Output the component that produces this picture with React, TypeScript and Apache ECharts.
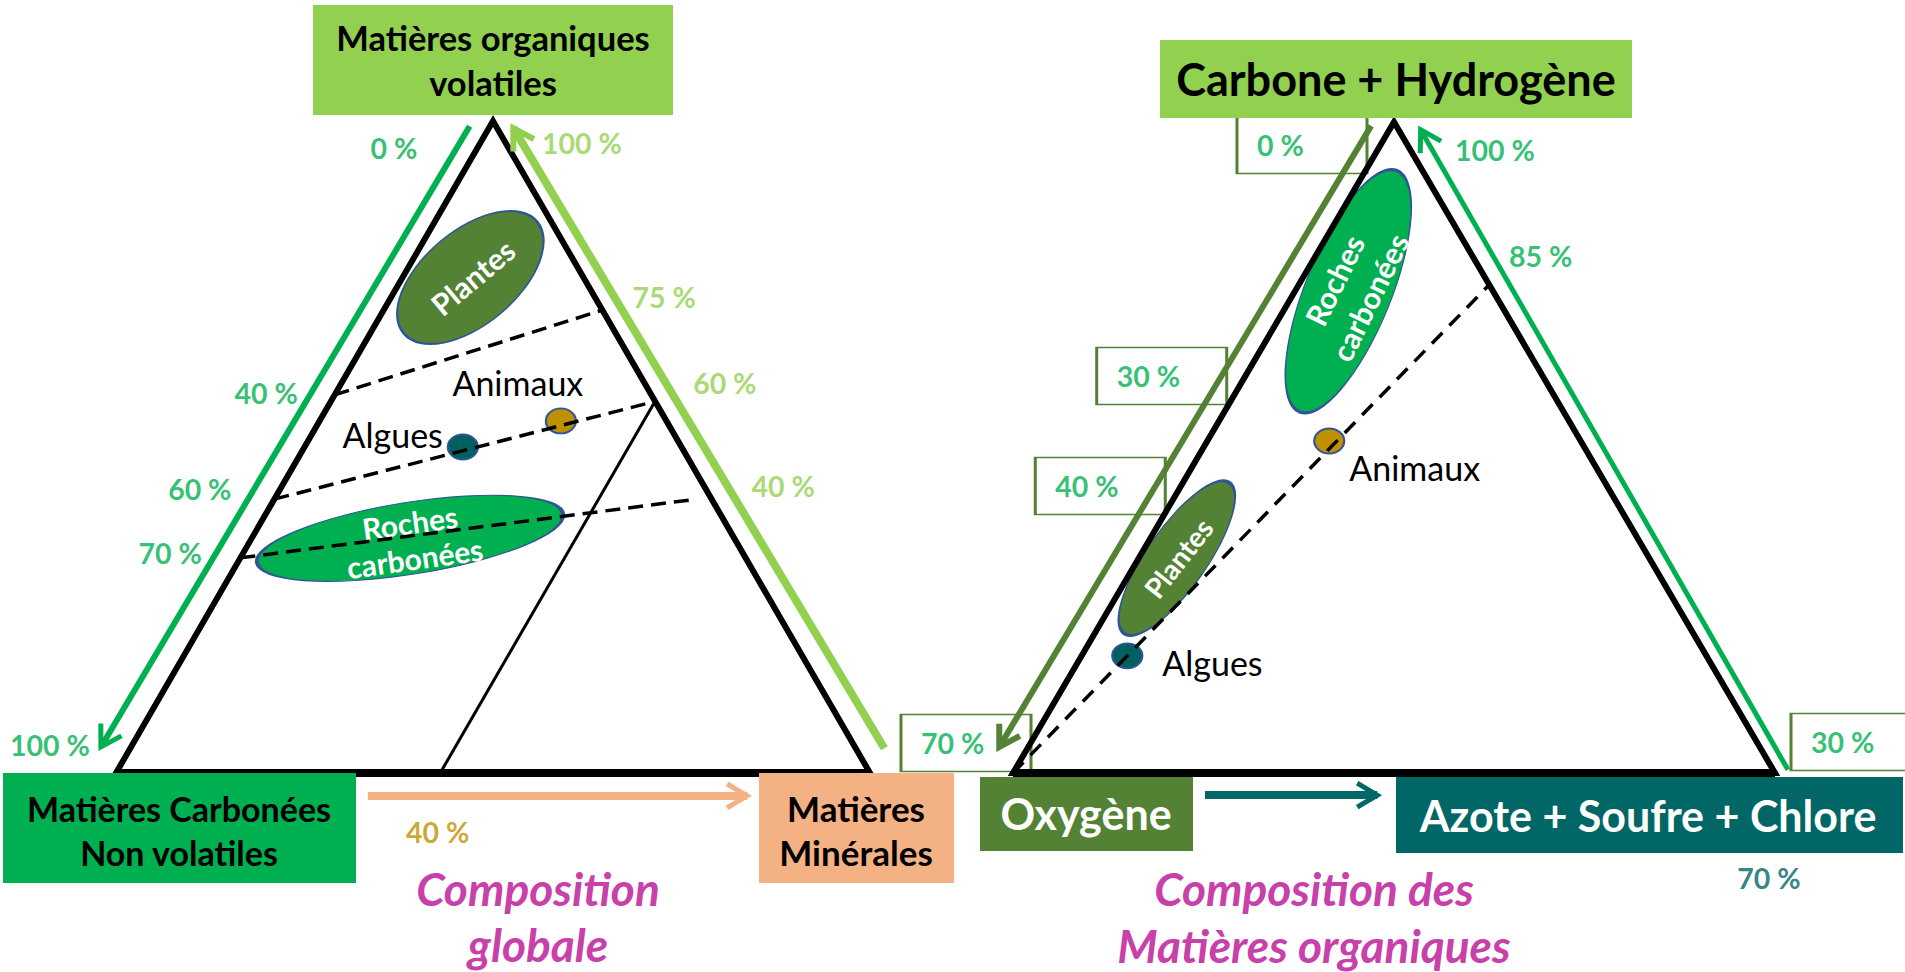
import React, { useEffect, useRef } from "react";
import * as echarts from "echarts";

/* ================= DATA ================= */
// Left diagram "Composition globale" — ternary order [top, bottom-left, bottom-right]
// = [Matières organiques volatiles, Matières carbonées non volatiles, Matières minérales] (%)
const globalCornerLabels = ["Matières organiques\nvolatiles", "Matières Carbonées\nNon volatiles", "Matières\nMinérales"];
const globalTitle = "Composition\nglobale";
const globalDashedStart = [[58, 42, 0], [42, 58, 0], [33, 67, 0]];
const globalDashedEnd = [[71, 0, 29], [57, 0, 43], [42, 2, 56]];
const globalSolidStart = [0, 57, 43];
const globalSolidEnd = [57, 0, 43];
const globalPointNames = ["Algues", "Animaux"];
const globalPointValues = [[50, 29, 21], [54, 14, 32]];
const globalZoneNames = ["Plantes", "Roches\ncarbonées"];
const globalZoneCentres = [[76, 15, 9], [36, 43, 21]];
const globalLeftTicks = [0, 40, 60, 70, 100];
const globalRightTicks = [100, 75, 60, 40];
const globalBottomTicks = [40];
const globalLeftScale = [0, 100];
const globalRightScale = [100, 0];
const globalBottomScale = [0, 100];

// Right diagram "Composition des Matières organiques" — [C + H, O, N + S + Cl] (%)
const organicCornerLabels = ["Carbone + Hydrogène", "Oxygène", "Azote + Soufre + Chlore"];
const organicTitle = "Composition des\nMatières organiques";
const organicDashedStart = [[0, 100, 0]];
const organicDashedEnd = [[75, 0, 25]];
const organicPointNames = ["Algues", "Animaux"];
const organicPointValues = [[18, 76, 6], [51, 33, 16]];
const organicZoneNames = ["Roches\ncarbonées", "Plantes"];
const organicZoneCentres = [[74, 19, 7], [33, 62, 5]];
const organicLeftTicks = [0, 30, 40, 70];
const organicRightTicks = [100, 85, 30];
const organicBottomTicks = [70];
const organicLeftScale = [0, 70];
const organicRightScale = [100, 30];
const organicBottomScale = [0, 70];

/* ================= STYLE & LAYOUT ================= */
const FONT = "Lato, 'Open Sans', sans-serif";
const BLACK = "#000000";
const WHITE = "#FFFFFF";
const GREEN = "#00B050";
const LIGHT = "#92D050";
const OLIVE = "#548235";
const TEAL = "#006666";
const PEACH = "#F4B183";
const GOLD = "#BF9000";
const MAGENTA = "#C840A9";
const EDGE_BLUE = "#2F5597";
const ALGAE = "#00605F";
const ELLIPSE = "path://M50,0 C77.6,0 100,22.4 100,50 C100,77.6 77.6,100 50,100 C22.4,100 0,77.6 0,50 C0,22.4 22.4,0 50,0 Z";

const frames = [
  { x: 116, y: 121, w: 754, h: 652 },
  { x: 1013, y: 122, w: 762, h: 651 },
];
const PAD = 0.1;

const diagrams: any[] = [
  {
    frame: frames[0],
    dashStart: globalDashedStart, dashEnd: globalDashedEnd, dashWidth: 3.5, dash: [15, 8],
    solidStart: [globalSolidStart], solidEnd: [globalSolidEnd],
    pointNames: globalPointNames, pointValues: globalPointValues,
    pointStyle: [
      { color: ALGAE, align: "right", offset: [-20, -13] },
      { color: GOLD, align: "center", offset: [-43, -38] },
    ],
    zoneNames: globalZoneNames, zoneCentres: globalZoneCentres,
    zoneStyle: [
      { size: [174, 94], rot: 40, labelRot: 40, color: OLIVE, fs: 30, lh: 34, offset: [2, 1] },
      { size: [310, 72], rot: 9, labelRot: 8, color: GREEN, fs: 30, lh: 36, offset: [2, 2] },
    ],
    ticks: [
      { edge: "left", values: globalLeftTicks, scale: globalLeftScale, color: GREEN,
        offsets: [[-99, 27], [-76, 11], [-67, -23], [-59, -24], [-66, -28]], boxed: [] },
      { edge: "right", values: globalRightTicks, scale: globalRightScale, color: LIGHT,
        offsets: [[89, 22], [77, 13], [81, 1], [64, -26]], boxed: [] },
      { edge: "bottom", values: globalBottomTicks, scale: globalBottomScale, color: GOLD,
        offsets: [[20, 59]], boxed: [] },
    ],
    arrows: [
      { from: [0.469, 0.992], to: [-0.02, 0.04], color: GREEN, width: 6, head: 5 },
      { from: [1.019, 0.038], to: [0.527, 0.989], color: LIGHT, width: 8, head: 6 },
      { from: [0.334, -0.035], to: [0.837, -0.035], color: PEACH, width: 8, head: 5 },
    ],
  },
  {
    frame: frames[1],
    dashStart: organicDashedStart, dashEnd: organicDashedEnd, dashWidth: 3.5, dash: [15, 10],
    solidStart: [], solidEnd: [],
    pointNames: organicPointNames, pointValues: organicPointValues,
    pointStyle: [
      { color: ALGAE, align: "left", offset: [35, 7] },
      { color: GOLD, align: "left", offset: [20, 27] },
    ],
    zoneNames: organicZoneNames, zoneCentres: organicZoneCentres,
    zoneStyle: [
      { size: [260, 86], rot: 68, labelRot: 64, color: GREEN, fs: 30, lh: 39, offset: [4, 2] },
      { size: [184, 60], rot: 55, labelRot: 52, color: OLIVE, fs: 28, lh: 30, offset: [1, 1] },
    ],
    ticks: [
      { edge: "left", values: organicLeftTicks, scale: organicLeftScale, color: GREEN,
        offsets: [[-92, 23], [-69, -25], [-76, -8], [-47, -30]], boxed: [true, true, true, true] },
      { edge: "right", values: organicRightTicks, scale: organicRightScale, color: GREEN,
        offsets: [[101, 28], [65, -6], [81, -31]], boxed: [false, false, true] },
      { edge: "bottom", values: organicBottomTicks, scale: organicBottomScale, color: TEAL,
        offsets: [[-6, 105]], boxed: [] },
    ],
    arrows: [
      { from: [0.47, 0.994], to: [-0.018, 0.04], color: OLIVE, width: 6, head: 6 },
      { from: [1.017, 0.005], to: [0.535, 0.988], color: GREEN, width: 5, head: 5 },
      { from: [0.252, -0.034], to: [0.478, -0.034], color: TEAL, width: 8, head: 5 },
    ],
  },
];

const cornerBoxes = [
  { rect: [313, 5, 360, 110], fill: LIGHT, text: globalCornerLabels[0], tx: 493, ty: 60, color: BLACK, size: 34.5, lh: 45 },
  { rect: [3, 773, 353, 110], fill: GREEN, text: globalCornerLabels[1], tx: 179, ty: 830, color: BLACK, size: 34, lh: 44 },
  { rect: [759, 773, 195, 110], fill: PEACH, text: globalCornerLabels[2], tx: 856, ty: 830, color: BLACK, size: 35, lh: 44 },
  { rect: [1160, 40, 472, 78], fill: LIGHT, text: organicCornerLabels[0], tx: 1396, ty: 79, color: BLACK, size: 45, lh: 50 },
  { rect: [980, 777, 213, 74], fill: OLIVE, text: organicCornerLabels[1], tx: 1086, ty: 813, color: WHITE, size: 43, lh: 50 },
  { rect: [1396, 777, 507, 76], fill: TEAL, text: organicCornerLabels[2], tx: 1648, ty: 815, color: WHITE, size: 43, lh: 50 },
];
const titleTexts = [
  { text: globalTitle, x: 538, y: 916, lh: 56 },
  { text: organicTitle, x: 1314, y: 917, lh: 57 },
];
const TITLE_SIZE = 46;

/* ================= HELPERS ================= */
function toXY(t: number[]): number[] {
  const s = t[0] + t[1] + t[2];
  return [(t[2] + t[0] / 2) / s, t[0] / s];
}
function edgeXY(edge: string, f: number): number[] {
  if (edge === "left") return [0.5 - 0.5 * f, 1 - f];
  if (edge === "right") return [0.5 + 0.5 * f, 1 - f];
  return [f, 0];
}
function frac(v: number, scale: number[]): number {
  return (v - scale[0]) / (scale[1] - scale[0]);
}
function arrowHead(a: any, fr: any): number[][] {
  const px = (a.to[0] - a.from[0]) * fr.w;
  const py = -(a.to[1] - a.from[1]) * fr.h;
  const len = Math.hypot(px, py);
  const ux = px / len, uy = py / len;
  const nx = -uy, ny = ux;
  const L = 20, W = 12;
  const pt = (bx: number, by: number) => [a.to[0] + bx / fr.w, a.to[1] - by / fr.h];
  return [pt(-ux * L + nx * W, -uy * L + ny * W), a.to, pt(-ux * L - nx * W, -uy * L - ny * W)];
}

function buildSeries(d: any, gi: number): any[] {
  const ax = { xAxisIndex: gi, yAxisIndex: gi };
  const common = { silent: true, animation: false };
  const V = [[100, 0, 0], [0, 100, 0], [0, 0, 100]].map(toXY);
  const s: any[] = [];

  // triangle outline
  s.push({ type: "line", ...ax, ...common, data: [V[1], V[2], V[0], V[1], V[2]], symbol: "none", clip: false,
    lineStyle: { color: BLACK, width: 6, join: "miter", miterLimit: 10 }, z: 5 });
  s.push({ type: "line", ...ax, ...common, data: [V[1], V[2]], symbol: "none", clip: false,
    lineStyle: { color: BLACK, width: 8 }, z: 5 });

  // zones (ellipses)
  s.push({
    type: "scatter", ...ax, ...common, clip: false, symbol: ELLIPSE, z: 2,
    data: d.zoneCentres.map((c: number[], i: number) => {
      const st = d.zoneStyle[i];
      return {
        name: d.zoneNames[i], value: toXY(c), symbolSize: st.size, symbolRotate: st.rot,
        itemStyle: { color: st.color },
        label: { rotate: st.labelRot, fontSize: st.fs, lineHeight: st.lh, offset: st.offset },
      };
    }),
    itemStyle: { borderColor: EDGE_BLUE, borderWidth: 2, opacity: 1 },
    label: { show: true, position: "inside", formatter: "{b}", color: WHITE, fontFamily: FONT, fontWeight: "bold" },
  });

  // points
  s.push({
    type: "scatter", ...ax, ...common, clip: false, symbol: ELLIPSE, symbolSize: [30, 25], z: 3,
    data: d.pointValues.map((p: number[], i: number) => ({
      name: d.pointNames[i], value: toXY(p),
      itemStyle: { color: d.pointStyle[i].color },
      label: { align: d.pointStyle[i].align, offset: d.pointStyle[i].offset },
    })),
    itemStyle: { borderColor: EDGE_BLUE, borderWidth: 2, opacity: 1 },
    label: { show: true, position: "inside", formatter: "{b}", color: BLACK, fontFamily: FONT, fontSize: 34, verticalAlign: "middle" },
  });

  // dashed lines
  s.push({
    type: "lines", coordinateSystem: "cartesian2d", ...ax, ...common, z: 4,
    data: d.dashStart.map((p: number[], i: number) => ({ coords: [toXY(p), toXY(d.dashEnd[i])] })),
    lineStyle: { color: BLACK, width: d.dashWidth, type: d.dash, opacity: 1, curveness: 0 },
  });
  // solid lines
  if (d.solidStart.length) {
    s.push({
      type: "lines", coordinateSystem: "cartesian2d", ...ax, ...common, z: 4,
      data: d.solidStart.map((p: number[], i: number) => ({ coords: [toXY(p), toXY(d.solidEnd[i])] })),
      lineStyle: { color: BLACK, width: 3, type: "solid", opacity: 1, curveness: 0 },
    });
  }

  // arrows
  s.push({
    type: "lines", coordinateSystem: "cartesian2d", ...ax, ...common, z: 6,
    data: d.arrows.map((a: any) => ({ coords: [a.from, a.to], lineStyle: { color: a.color, width: a.width } })),
    lineStyle: { opacity: 1, curveness: 0 },
  });
  s.push({
    type: "lines", coordinateSystem: "cartesian2d", ...ax, ...common, z: 6, polyline: true,
    data: d.arrows.map((a: any) => ({ coords: arrowHead(a, d.frame), lineStyle: { color: a.color, width: a.head } })),
    lineStyle: { opacity: 1, curveness: 0, join: "miter" },
  });

  // tick labels + boxes
  const items: any[] = [];
  const boxItems: any[] = [];
  d.ticks.forEach((g: any) => {
    g.values.forEach((v: number, i: number) => {
      const pos = edgeXY(g.edge, frac(v, g.scale));
      const off = g.offsets[i];
      const boxed = !!g.boxed[i];
      items.push({
        name: `${v} %`, value: pos,
        label: { offset: boxed ? [off[0] - 45, off[1]] : off, align: boxed ? "left" : "center", color: g.color },
      });
      if (boxed) boxItems.push({ value: pos, symbolOffset: off });
    });
  });
  s.push({
    type: "scatter", ...ax, ...common, clip: false, symbolSize: 1, z: 8,
    itemStyle: { color: "rgba(0,0,0,0)" },
    data: items,
    label: { show: true, position: "inside", formatter: "{b}", fontFamily: FONT, fontWeight: "bold", fontSize: 28.5, verticalAlign: "middle" },
  });
  if (boxItems.length) {
    s.push({
      type: "scatter", ...ax, ...common, clip: false, symbol: "rect", symbolSize: [130, 57], z: 3,
      itemStyle: { color: "rgba(0,0,0,0)", borderColor: OLIVE, borderWidth: 2, opacity: 1 },
      data: boxItems,
    });
  }
  return s;
}

function buildOption(): any {
  const grid = frames.map((f) => ({
    left: f.x - PAD * f.w, top: f.y - PAD * f.h, width: f.w * (1 + 2 * PAD), height: f.h * (1 + 2 * PAD),
    containLabel: false, outerBoundsMode: "none", show: false,
  }));
  const xAxis = frames.map((_, i) => ({ type: "value", gridIndex: i, min: -PAD, max: 1 + PAD, show: false }));
  const yAxis = frames.map((_, i) => ({ type: "value", gridIndex: i, min: -PAD, max: 1 + PAD, show: false }));
  const series = diagrams.flatMap((d, i) => buildSeries(d, i));

  const elements: any[] = [];
  cornerBoxes.forEach((b) => {
    elements.push({ type: "rect", silent: true, z: 10, shape: { x: b.rect[0], y: b.rect[1], width: b.rect[2], height: b.rect[3] }, style: { fill: b.fill } });
    elements.push({ type: "text", silent: true, z: 11, x: b.tx, y: b.ty,
      style: { text: b.text, fill: b.color, fontFamily: FONT, fontWeight: "bold", fontSize: b.size, lineHeight: b.lh, align: "center", verticalAlign: "middle" } });
  });
  titleTexts.forEach((t) => {
    elements.push({ type: "text", silent: true, z: 11, x: t.x, y: t.y,
      style: { text: t.text, fill: MAGENTA, fontFamily: FONT, fontWeight: "bold", fontStyle: "italic", fontSize: TITLE_SIZE, lineHeight: t.lh, align: "center", verticalAlign: "middle" } });
  });

  return {
    animation: false,
    backgroundColor: "#FFFFFF",
    grid, xAxis, yAxis, series,
    graphic: { elements },
  };
}

export default function App() {
  const ref = useRef<HTMLDivElement>(null);
  useEffect(() => {
    if (!ref.current) return;
    const chart = echarts.init(ref.current, null, { renderer: "svg" });
    chart.setOption(buildOption());
    return () => chart.dispose();
  }, []);
  return (
    <div
      ref={ref}
      style={{ position: "fixed", left: 0, top: 0, width: 1905, height: 972, background: "#fff" }}
    />
  );
}
